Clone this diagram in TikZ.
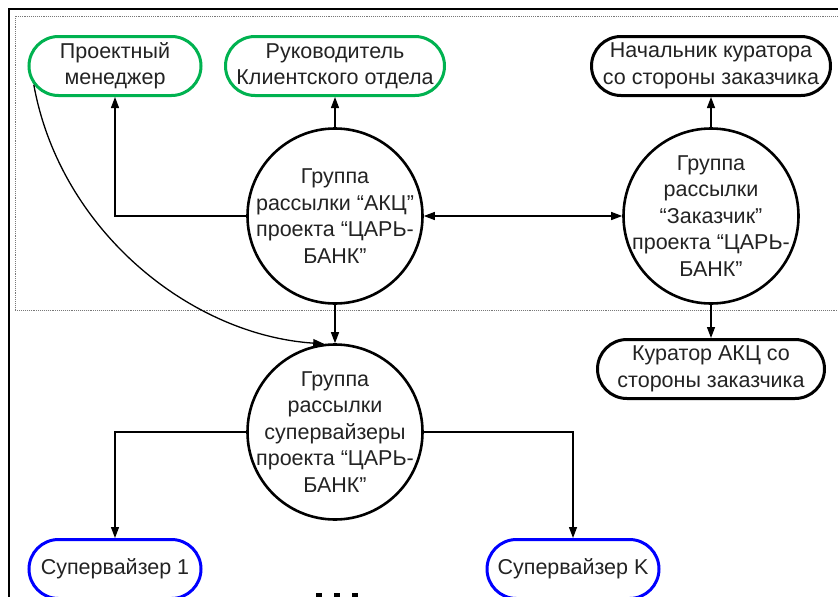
\documentclass[tikz,border=0pt]{standalone}
\usepackage{fontspec}
\setmainfont{Liberation Sans}
\usetikzlibrary{arrows.meta,shapes.misc}
\definecolor{grn}{RGB}{0,178,80}
\definecolor{blu}{RGB}{0,0,255}
\definecolor{txt}{RGB}{35,35,35}
\definecolor{dotc}{RGB}{120,120,120}
\begin{document}
\begin{tikzpicture}[x=1pt,y=-1pt,
  lbl/.style={font=\fontsize{21.5}{26.5}\selectfont, text=txt, align=center},
  pill/.style={lbl, rounded rectangle, draw, line width=3pt, minimum height=59pt, inner xsep=2pt, inner ysep=0pt},
  grp/.style={lbl, circle, draw, line width=2.6pt, minimum size=175pt, inner sep=-40pt},
  arr/.style={line width=1.3pt, -{Triangle[length=11pt,width=8pt]}},
  darr/.style={line width=1.3pt, {Triangle[length=11pt,width=8pt]}-{Triangle[length=11pt,width=8pt]}}]
\useasboundingbox (0,0) rectangle (838,597);
\clip (0,0) rectangle (838,597);
\fill[white] (0,0) rectangle (838,597);
% frames
\draw[line width=1.2pt] (9,9) rectangle (860,620);
\draw[dotc, line width=0.9pt, densely dotted] (15,16) rectangle (860,310);
% nodes
\node[pill, draw=grn, minimum width=176pt] (pm) at (115,66) {Проектный\\менеджер};
\node[pill, draw=grn, minimum width=223pt] (rk) at (335,66) {Руководитель\\Клиентского отдела};
\node[pill, draw=black, minimum width=229pt, inner xsep=-5pt] (nk) at (711,66) {Начальник куратора\\со стороны заказчика};
\node[grp] (akc) at (335,216) {Группа\\рассылки “АКЦ”\\проекта “ЦАРЬ-\\БАНК”};
\node[grp] (zk) at (711,216) {Группа\\рассылки\\“Заказчик”\\проекта “ЦАРЬ-\\БАНК”};
\node[pill, draw=black, minimum width=231pt] (ka) at (711,369) {Куратор АКЦ со\\стороны заказчика};
\node[grp] (sv) at (335,432) {Группа\\рассылки\\супервайзеры\\проекта “ЦАРЬ-\\БАНК”};
\node[pill, draw=blu, minimum width=176pt] (s1) at (115,569) {Супервайзер 1};
\node[pill, draw=blu, minimum width=176pt] (sk) at (573,569) {Супервайзер K};
% ellipsis
\foreach \xx in {319,337,355} \fill[black] (\xx-2.7,593) rectangle (\xx+2.7,599);
% connectors
\draw[arr] (akc.west) -| (pm.south);
\draw[arr] (akc.north) -- (rk.south);
\draw[darr] (akc.east) -- (zk.west);
\draw[arr] (zk.north) -- (nk.south);
\draw[arr] (zk.south) -- (ka.north);
\draw[arr] (akc.south) -- (sv.north);
\draw[arr] (pm.193) .. controls (60,230) and (190,335) .. (sv.97);
\draw[arr] (sv.west) -| (s1.north);
\draw[arr] (sv.east) -| (sk.north);
\end{tikzpicture}
\end{document}
